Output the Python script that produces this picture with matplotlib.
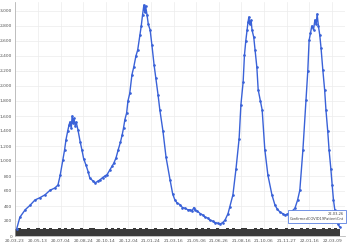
import numpy as np
import pandas as pd
import matplotlib
matplotlib.use('Agg')
import matplotlib.pyplot as plt
from matplotlib.ticker import FuncFormatter, MultipleLocator

# Daily patient count (day offset from 2020-03-23, value)
start = pd.Timestamp('2020-03-23')
day_offsets = [4, 11, 23, 34, 45, 56, 68, 79, 90, 97, 102, 108, 112, 115, 119, 122, 124,
               127, 129, 131, 133, 136, 138, 142, 147, 151, 155, 160, 165, 169, 175, 181,
               187, 192, 198, 203, 208, 214, 219, 223, 228, 233, 238, 242, 245, 248, 252,
               255, 259, 264, 268, 273, 277, 282, 285, 288, 291, 293, 295, 298, 301, 305,
               309, 314, 318, 323, 327, 334, 341, 350, 356, 361, 366, 372, 378, 384, 390,
               395, 400, 404, 406, 412, 418, 424, 429, 435, 440, 446, 451, 458, 463, 469,
               474, 481, 485, 492, 499, 506, 510, 515, 518, 521, 524, 526, 528, 530, 533,
               535, 539, 542, 546, 549, 554, 558, 564, 571, 580, 587, 592, 598, 604, 609,
               615, 621, 627, 632, 638, 643, 650, 657, 661, 664, 667, 670, 674, 677, 680,
               682, 685, 688, 691, 695, 699, 702, 706, 709, 713, 716, 719, 722, 726, 729, 733]
patients = [100, 250, 350, 410, 480, 510, 550, 610, 640, 680, 810, 1010, 1150, 1280, 1400, 1480, 1520,
            1440, 1600, 1500, 1570, 1470, 1520, 1420, 1260, 1150, 1030, 950, 860, 770, 740, 710,
            730, 750, 780, 800, 820, 880, 930, 970, 1040, 1150, 1250, 1350, 1440, 1550, 1640,
            1800, 1900, 2150, 2250, 2400, 2480, 2680, 2800, 2950, 3080, 2980, 3060, 2950, 2820, 2750,
            2550, 2280, 2100, 1880, 1680, 1400, 1050, 750, 560, 480, 440, 420, 380, 370, 350,
            350, 340, 380, 350, 330, 300, 280, 250, 240, 210, 200, 180, 170, 160, 180, 210,
            300, 390, 550, 900, 1300, 1750, 2050, 2410, 2600, 2750, 2850, 2920, 2820, 2880, 2750,
            2650, 2480, 2250, 1950, 1800, 1680, 1150, 810, 550, 410, 360, 320, 300, 280,
            290, 310, 340, 370, 480, 610, 1150, 1810, 2200, 2610, 2700, 2800, 2750, 2880, 2820,
            2960, 2800, 2680, 2500, 2210, 1950, 1680, 1400, 1150, 900, 680, 480, 350, 250, 160, 120]

# Weekly bar series drawn along the bottom
bar_values = [98, 102, 100, 96, 104, 100, 99, 103, 97, 101, 100, 105, 98, 100, 102, 96, 101, 99,
              104, 100, 97, 103, 100, 98, 101, 105, 99, 100, 96, 102, 100, 104, 98, 101, 99, 103,
              100, 97, 102, 100, 105, 98, 101, 100, 96, 103, 99, 100, 102, 98, 104, 100, 97, 101,
              100, 103, 99, 98, 102, 100, 105, 97, 101, 100, 99, 103, 98, 100, 102, 96, 104, 100,
              99, 101, 103, 97, 100, 102, 98, 105, 100, 99, 101, 96, 103, 100, 98, 102, 100, 104,
              99, 97, 101, 100, 103, 98, 102, 100, 99, 105, 97, 101, 100, 103, 98]

tick_labels = ['20-03-23', '20-05-13', '20-07-04', '20-08-24', '20-10-14', '20-12-04',
               '21-01-24', '21-03-16', '21-05-06', '21-06-26', '21-08-16', '21-10-06',
               '21-11-27', '22-01-16', '22-03-09']

dates = [start + pd.Timedelta(days=d) for d in day_offsets]
bar_dates = [start + pd.Timedelta(days=7 * i + 3) for i in range(len(bar_values))]
tick_dates = [pd.Timestamp('20' + t) for t in tick_labels]

fig = plt.figure(figsize=(3.5, 2.5), dpi=100)
ax = fig.add_axes([15 / 350, 14 / 250, 330 / 350, 234 / 250])

ax.bar(bar_dates, bar_values, width=7.0, color='#3a3a3a', linewidth=0, zorder=2)
ax.plot(dates, patients, color='#3a62d8', lw=1.0, marker='.', markersize=1.8, zorder=3)

ax.set_xlim(start, start + pd.Timedelta(days=745))
ax.set_ylim(0, 3120)
ax.yaxis.set_major_locator(MultipleLocator(200))
ax.yaxis.set_major_formatter(FuncFormatter(lambda v, p: f'{int(v):,}'))
ax.set_xticks(tick_dates)
ax.set_xticklabels(tick_labels)
ax.tick_params(labelsize=3.2, colors='#555555', length=0, pad=2)
ax.grid(True, color='#ececec', lw=0.5)
ax.set_axisbelow(True)
for s in ['top', 'right']:
    ax.spines[s].set_visible(False)
for s in ['left', 'bottom']:
    ax.spines[s].set_color('#aaaaaa')
    ax.spines[s].set_linewidth(0.5)

# tooltip box
ax.annotate('22-03-26\nConfirmedCOVID19PatientCnt', xy=(0.997, 0.065), xycoords='axes fraction',
            ha='right', va='bottom', fontsize=2.6, color='#444444', zorder=5,
            bbox=dict(boxstyle='square,pad=0.5', fc='white', ec='#5a80e0', lw=0.6))

fig.savefig('out.png', dpi=100)
